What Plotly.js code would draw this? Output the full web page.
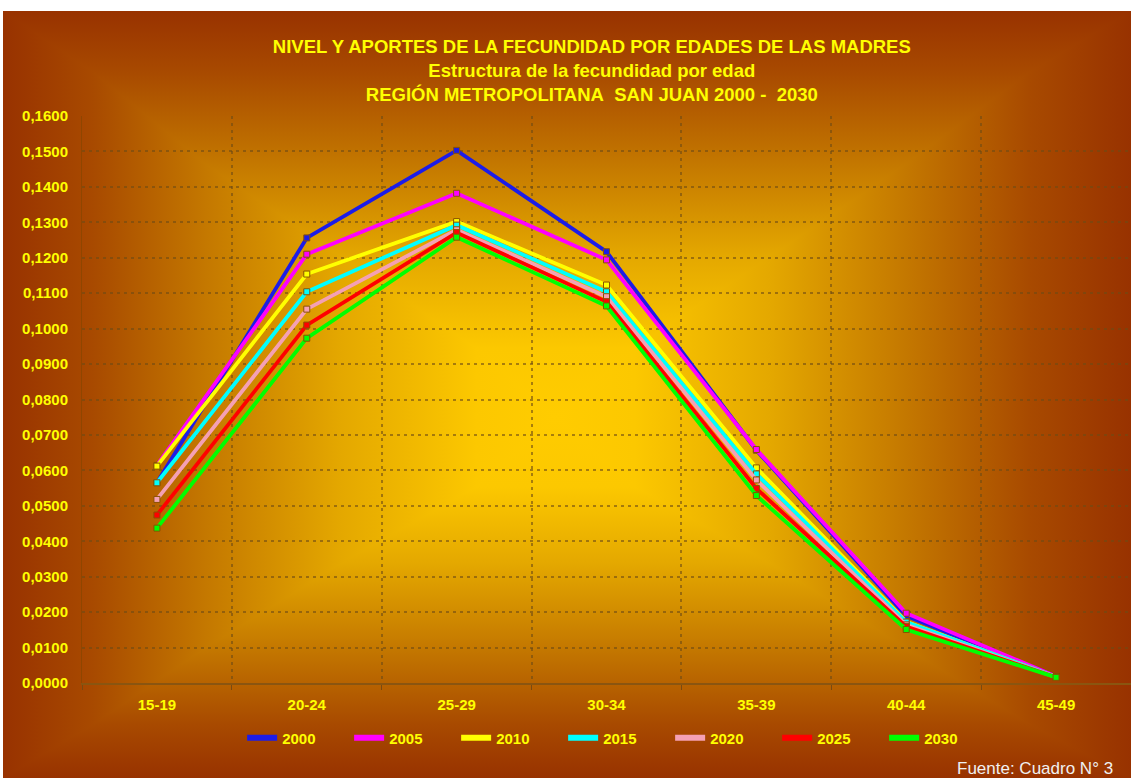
<!DOCTYPE html>
<html>
<head>
<meta charset="utf-8">
<script src="https://cdn.plot.ly/plotly-3.0.1.min.js"></script>
<style>
  html, body { margin: 0; padding: 0; background: #ffffff; width: 1131px; height: 778px; overflow: hidden; }
  #chart {
    position: absolute; left: 3px; top: 11px; width: 1128px; height: 767px;
    background:
      linear-gradient(to right, #983200 0%, #a84a00 8%, #c47800 18%, #e4a800 30%, #fcc800 42%, #ffcc00 49%, #fcc800 56%, #e4a800 68%, #c47800 80%, #a84a00 91%, #983200 100%),
      linear-gradient(to bottom, #983200 0%, #a84a00 8%, #c47800 20%, #e4a800 32%, #fcc800 44%, #ffcc00 53%, #fcc800 62%, #e4a800 72%, #c47800 83%, #a84a00 93%, #983200 100%);
    background-blend-mode: darken;
  }
</style>
</head>
<body>
<div id="chart"></div>
<script>
const categories = ['15-19', '20-24', '25-29', '30-34', '35-39', '40-44', '45-49'];
const seriesNames = ['2000', '2005', '2010', '2015', '2020', '2025', '2030'];
const y2000 = [0.0565, 0.1256, 0.1503, 0.1217, 0.0657, 0.0189, 0.0018];
const y2005 = [0.0614, 0.1210, 0.1382, 0.1194, 0.0659, 0.0197, 0.0018];
const y2010 = [0.0612, 0.1154, 0.1302, 0.1123, 0.0607, 0.0173, 0.0017];
const y2015 = [0.0565, 0.1104, 0.1292, 0.1104, 0.0590, 0.0172, 0.0017];
const y2020 = [0.0518, 0.1055, 0.1279, 0.1090, 0.0573, 0.0164, 0.0016];
const y2025 = [0.0474, 0.1010, 0.1271, 0.1076, 0.0549, 0.0159, 0.0016];
const y2030 = [0.0437, 0.0973, 0.1258, 0.1064, 0.0529, 0.0151, 0.0016];
const seriesValues = [y2000, y2005, y2010, y2015, y2020, y2025, y2030];
const seriesColors = ['#1c1ce8', '#ff00ff', '#ffff00', '#00ffff', '#f4a0b4', '#ff0000', '#00ff00'];

const traces = [];
seriesValues.forEach((vals, i) => {
  traces.push({
    type: 'scatter', mode: 'lines+markers', name: seriesNames[i],
    x: categories, y: vals, showlegend: false,
    line: { color: seriesColors[i], width: 3.8 },
    marker: { symbol: 'square', size: 6, color: seriesColors[i], line: { color: '#8a5200', width: 1 } },
    hoverinfo: 'skip'
  });
});
// legend-only entries (thicker sample lines like the original)
seriesNames.forEach((n, i) => {
  traces.push({
    type: 'scatter', mode: 'lines', name: n,
    x: [null], y: [null], showlegend: true,
    line: { color: seriesColors[i], width: 6 }
  });
});

const gridStyle = { showgrid: true, gridcolor: 'rgba(110,75,20,0.6)', gridwidth: 2, griddash: '3px,4px' };
const tickFont = { family: 'Arial, "Liberation Sans", sans-serif', size: 15, color: '#ffff00', weight: 'bold' };

const layout = {
  width: 1128, height: 767,
  margin: { l: 79, r: 0, t: 105, b: 95, pad: 0 },
  paper_bgcolor: 'rgba(0,0,0,0)',
  plot_bgcolor: 'rgba(0,0,0,0)',
  separators: ',.',
  font: { family: 'Arial, "Liberation Sans", sans-serif', color: '#ffff00' },
  title: {
    text: 'NIVEL Y APORTES DE LA FECUNDIDAD POR EDADES DE LAS MADRES<br>Estructura de la fecundidad por edad<br>REGIÓN METROPOLITANA\u00a0 SAN JUAN 2000 -\u00a0 2030',
    font: { family: 'Arial, "Liberation Sans", sans-serif', size: 18.5, color: '#ffff00', weight: 'bold' },
    xref: 'container', x: 0.522, xanchor: 'center',
    yref: 'container', y: 0.945, yanchor: 'top'
  },
  xaxis: Object.assign({
    type: 'category', range: [-0.5, 6.5], tickson: 'boundaries',
    ticks: 'outside', ticklen: 5, tickcolor: '#7a4a10', tickwidth: 1,
    showline: true, linecolor: '#8a5510', linewidth: 1.5,
    tickfont: tickFont, ticklabelstandoff: 7, fixedrange: true
  }, gridStyle),
  yaxis: Object.assign({
    range: [0, 0.16], tick0: 0, dtick: 0.01, tickformat: '.4f',
    zeroline: false, showline: true, linecolor: 'rgba(120,70,0,0.5)', linewidth: 1,
    ticks: '', tickfont: tickFont, ticklabelstandoff: 10, fixedrange: true
  }, gridStyle),
  legend: {
    orientation: 'h', xref: 'container', yref: 'container',
    x: 0.544, xanchor: 'center', y: 0.052, yanchor: 'middle',
    font: { family: 'Arial, "Liberation Sans", sans-serif', size: 15, color: '#ffff00', weight: 'bold' },
    bgcolor: 'rgba(0,0,0,0)', itemwidth: 30, entrywidth: 62, traceorder: 'normal'
  },
  annotations: [{
    text: 'Fuente: Cuadro N° 3', xref: 'paper', yref: 'paper',
    x: 0.985, xanchor: 'right', y: -0.150, yanchor: 'middle', showarrow: false,
    font: { family: 'Arial, "Liberation Sans", sans-serif', size: 17, color: '#f0f0f0' }
  }]
};

Plotly.newPlot('chart', traces, layout, { displayModeBar: false, staticPlot: true });
</script>
</body>
</html>
